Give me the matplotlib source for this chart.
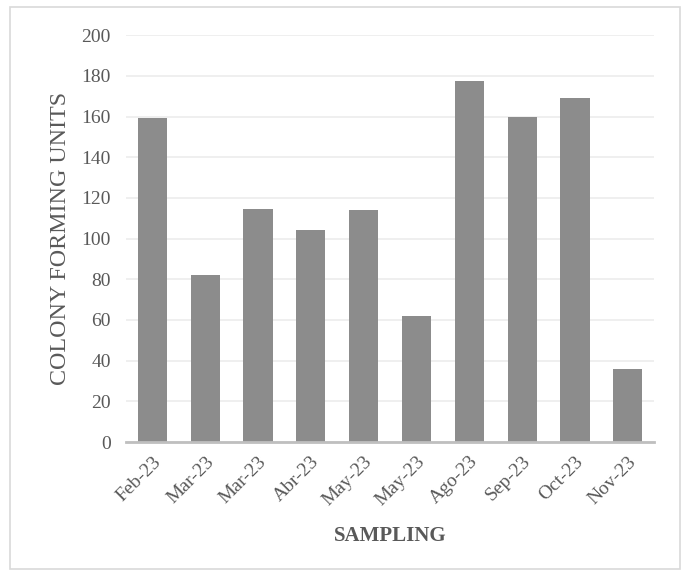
import matplotlib.pyplot as plt
from matplotlib.patches import Rectangle

# Data
months = ['Feb-23', 'Mar-23', 'Mar-23', 'Abr-23', 'May-23', 'May-23',
          'Ago-23', 'Sep-23', 'Oct-23', 'Nov-23']
cfu = [159.5, 82, 114.5, 104, 114, 62, 177.5, 160, 169, 36]

plt.rcParams['font.family'] = ['Liberation Serif', 'DejaVu Serif']
txt = '#595959'

fig = plt.figure(figsize=(6.88, 5.76), dpi=100)
ax = fig.add_axes([0.183, 0.2326, 0.768, 0.7064])

# outer frame like the spreadsheet chart area
fig.patches.append(Rectangle((0.014, 0.012), 0.974, 0.976, transform=fig.transFigure,
                             fill=False, edgecolor='#d9d9d9', linewidth=1.2))

x = list(range(len(months)))
ax.bar(x, cfu, width=0.55, color='#8c8c8c', zorder=3)

ax.set_ylim(0, 200)
ax.set_xlim(-0.5, len(months) - 0.5)
ax.set_yticks(range(0, 201, 20))
ax.yaxis.grid(True, color='#ececec', linewidth=1.2, zorder=0)
ax.set_axisbelow(True)

for s in ['top', 'right', 'left']:
    ax.spines[s].set_visible(False)
ax.spines['bottom'].set_color('#bfbfbf')
ax.spines['bottom'].set_linewidth(2)
ax.spines['bottom'].set_zorder(4)

ax.tick_params(axis='both', length=0, labelsize=14, colors=txt)
ax.tick_params(axis='y', pad=11)
ax.tick_params(axis='x', pad=8)
ax.set_xticks(x)
ax.set_xticklabels(months, rotation=45, ha='right', rotation_mode='anchor')

ax.set_ylabel('COLONY FORMING UNITS', fontsize=17.3, color=txt)
ax.yaxis.set_label_coords(-0.104, 0.5)
ax.set_xlabel('SAMPLING', fontsize=15, fontweight='bold', color=txt, labelpad=12)

fig.savefig('out.png', dpi=100)
